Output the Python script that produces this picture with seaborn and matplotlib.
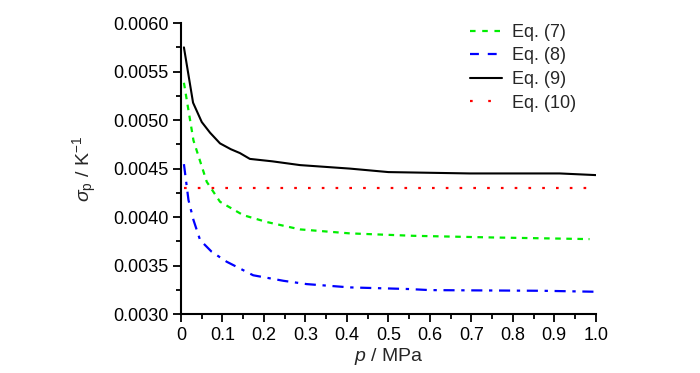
import numpy as np
import pandas as pd
import matplotlib
matplotlib.use("Agg")
import matplotlib.pyplot as plt
from matplotlib.lines import Line2D
from matplotlib.ticker import MultipleLocator, FormatStrFormatter
import seaborn as sns

sns.set_theme(style="ticks")
plt.rcParams['font.family'] = ['Liberation Sans', 'DejaVu Sans']
plt.rcParams['mathtext.fontset'] = 'custom'
plt.rcParams['mathtext.rm'] = 'Liberation Sans'
plt.rcParams['mathtext.it'] = 'Liberation Sans:italic'

# Eq. (7)
p7 = [0.007, 0.018, 0.03, 0.062, 0.094, 0.15, 0.206, 0.287, 0.407, 0.56, 0.75, 0.985]
s7 = [0.005385, 0.00510, 0.00479, 0.004364, 0.004158, 0.00402, 0.00395, 0.003873,
      0.003832, 0.003807, 0.00379, 0.003773]
# Eq. (8)
p8 = [0.007, 0.018, 0.03, 0.046, 0.074, 0.11, 0.174, 0.247, 0.303, 0.407, 0.55,
      0.6, 0.873, 1.0]
s8 = [0.004546, 0.004175, 0.00397, 0.003763, 0.003642, 0.00354, 0.0034, 0.003343,
      0.003309, 0.003275, 0.003258, 0.003247, 0.00324, 0.00323]
# Eq. (9)
p9 = [0.007, 0.029, 0.05, 0.07, 0.094, 0.12, 0.142, 0.166, 0.22, 0.287, 0.407, 0.50,
      0.696, 0.913, 1.0]
s9 = [0.00575, 0.00518, 0.00498, 0.00487, 0.00476, 0.00470, 0.00466, 0.00460,
      0.004575, 0.004536, 0.00450, 0.004464, 0.00445, 0.00445, 0.004433]
# Eq. (10)
p10 = [0.007, 1.0]
s10 = [0.0043, 0.0043]

fs = 13

fig = plt.figure(figsize=(7, 3.73), dpi=100)
ax = fig.add_axes([0.2586, 0.158, 0.5925, 0.78])

sns.lineplot(x=p7, y=s7, ax=ax, color="#00ee00", lw=1.6, sort=False)
ax.lines[-1].set_dashes((2.5, 2.5))
sns.lineplot(x=p8, y=s8, ax=ax, color="#0000ff", lw=1.6, sort=False)
ax.lines[-1].set_dashes((5, 3, 1.5, 3))
sns.lineplot(x=p9, y=s9, ax=ax, color="black", lw=1.5, sort=False)
sns.lineplot(x=p10, y=s10, ax=ax, color="#ff0000", lw=1.6, sort=False)
ax.lines[-1].set_dashes((1.2, 5))

ax.set_xlim(0, 1.0)
ax.set_ylim(0.0030, 0.0060)
ax.xaxis.set_minor_locator(MultipleLocator(0.05))
ax.yaxis.set_major_locator(MultipleLocator(0.0005))
ax.yaxis.set_minor_locator(MultipleLocator(0.00025))
ax.set_xticks(np.arange(0, 1.01, 0.1))
ax.set_xticklabels(["0"] + [f"{v:.1f}" for v in np.arange(0.1, 1.01, 0.1)])
ax.yaxis.set_major_formatter(FormatStrFormatter("%.4f"))
ax.tick_params(which="major", direction="out", length=6, width=1.3, labelsize=fs,
               color="black", labelcolor="black", pad=3)
ax.tick_params(which="minor", direction="out", length=3.5, width=1.3, color="black")
for s in ["left", "bottom"]:
    ax.spines[s].set_linewidth(1.5)
    ax.spines[s].set_color("black")
sns.despine(ax=ax)

ax.set_xlabel(r"$\it{p}$ / MPa", fontsize=14, labelpad=2)
ax.set_ylabel(r"$\sigma_\mathrm{p}$ / K$^{-1}$", fontsize=14, labelpad=10)

handles = [
    Line2D([], [], color="#00ee00", lw=1.6, dashes=(2.5, 3)),
    Line2D([], [], color="#0000ff", lw=1.6, dashes=(4, 4)),
    Line2D([], [], color="black", lw=1.5),
    Line2D([], [], color="#ff0000", lw=1.6, dashes=(1.2, 7)),
]
ax.legend(handles, ["Eq. (7)", "Eq. (8)", "Eq. (9)", "Eq. (10)"], frameon=False,
          fontsize=fs, loc="upper left", bbox_to_anchor=(470 / 700, 1 - 24 / 373),
          bbox_transform=fig.transFigure,
          handlelength=1.8, labelspacing=0.36, handletextpad=0.55,
          borderaxespad=0, borderpad=0)

fig.savefig("out.png", dpi=100)
